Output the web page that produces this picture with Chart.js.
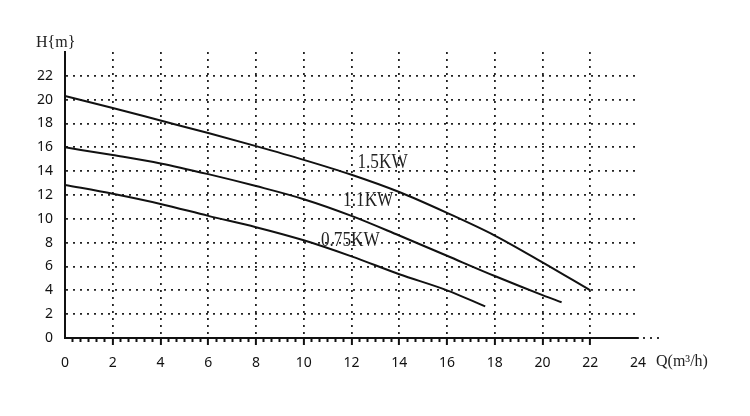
<!DOCTYPE html>
<html>
<head>
<meta charset="utf-8">
<script src="https://cdn.jsdelivr.net/npm/chart.js@4/dist/chart.umd.min.js"></script>
<style>
html, body { margin: 0; padding: 0; background: #fff; }
</style>
</head>
<body>
<canvas id="chartPump" width="750" height="416"></canvas>
<script>
// flow Q (m3/h) and head H (m)
const flow15 = [0, 2, 4, 6, 8, 10, 12, 14, 16, 18, 20, 22];
const head15 = [20.3, 19.3, 18.25, 17.2, 16.1, 14.95, 13.7, 12.25, 10.5, 8.6, 6.35, 4.0];
const flow11 = [0, 2, 4, 6, 8, 10, 12, 14, 16, 18, 20, 20.8];
const head11 = [16.0, 15.35, 14.65, 13.75, 12.75, 11.65, 10.25, 8.6, 6.9, 5.2, 3.6, 3.0];
const flow075 = [0, 2, 4, 6, 8, 10, 12, 14, 16, 17.6];
const head075 = [12.85, 12.1, 11.25, 10.25, 9.3, 8.2, 6.85, 5.35, 4.0, 2.65];

const curveNames = ['1.5KW', '1.1KW', '0.75KW'];
// where each name is written, in chart units
const nameQ = [13.3, 12.7, 11.95];
const nameH = [14.7, 11.5, 8.2];

function toPoints(xs, ys) {
    return xs.map(function(v, i) { return {x: v, y: ys[i]}; });
}

const none = 'rgba(0,0,0,0)';

// curve names, axis titles and the dotted run-out of the Q axis
const textPlugin = {
    id: 'pumpText',
    afterDatasetsDraw(chart) {
        const ctx = chart.ctx;
        const area = chart.chartArea;
        const x = chart.scales.x;
        const y = chart.scales.y;
        ctx.save();
        ctx.fillStyle = '#222';
        ctx.textBaseline = 'middle';
        ctx.textAlign = 'center';
        ctx.font = "21px 'Liberation Serif'";
        curveNames.forEach(function(n, i) {
            ctx.save();
            ctx.translate(x.getPixelForValue(nameQ[i]), y.getPixelForValue(nameH[i]));
            ctx.scale(0.82, 1);   // narrow lettering like the original
            ctx.fillText(n, 0, 0);
            ctx.restore();
        });
        ctx.textAlign = 'left';
        ctx.font = "16px 'Liberation Serif'";
        ctx.fillText('H{m}', area.left - 29, area.top - 9);
        ctx.fillText('Q(m\u00b3/h)', area.right + 18, area.bottom + 24);

        ctx.strokeStyle = '#333';
        ctx.lineWidth = 1.8;
        ctx.setLineDash([2, 5]);
        ctx.beginPath();
        ctx.moveTo(area.right + 5, area.bottom);
        ctx.lineTo(area.right + 24, area.bottom);
        ctx.stroke();
        ctx.restore();
    }
};

const lineStyle = {
    showLine: true,
    borderColor: '#111',
    borderWidth: 2,
    pointRadius: 0,
    cubicInterpolationMode: 'monotone',
    fill: false
};

const data = {
    datasets: [
        Object.assign({label: curveNames[0], data: toPoints(flow15, head15)}, lineStyle),
        Object.assign({label: curveNames[1], data: toPoints(flow11, head11)}, lineStyle),
        Object.assign({label: curveNames[2], data: toPoints(flow075, head075)}, lineStyle)
    ]
};

const tickFont = {family: "'Noto Sans'", size: 14};

const config = {
    type: 'scatter',
    data: data,
    plugins: [textPlugin],
    options: {
        responsive: false,
        animation: false,
        layout: { padding: {top: 52, right: 112, left: 0, bottom: 0} },
        plugins: {
            legend: { display: false },
            tooltip: { enabled: false }
        },
        scales: {
            x: {
                type: 'linear',
                position: 'bottom',
                weight: 1,
                min: 0,
                max: 24,
                ticks: { stepSize: 2, padding: 10, color: '#111', font: tickFont, autoSkip: false, maxRotation: 0 },
                grid: {
                    color: function(c) { return (c.tick.value === 0 || c.tick.value === 24) ? none : '#222'; },
                    lineWidth: 1.8,
                    tickLength: 7,
                    tickWidth: 2,
                    tickColor: function(c) { return (c.tick.value === 0 || c.tick.value === 24) ? none : '#111'; }
                },
                border: { color: '#111', width: 2, dash: [2, 5] },
                afterFit: function(s) { s.height = 78; }
            },
            // small ticks every 1/3 m3/h along the Q axis
            xMinor: {
                type: 'linear',
                axis: 'x',
                position: 'bottom',
                weight: 0,
                min: 0,
                max: 24,
                ticks: { stepSize: 1 / 3, autoSkip: false, maxRotation: 0, padding: 0, callback: function() { return ''; } },
                grid: {
                    drawOnChartArea: false,
                    tickLength: 4,
                    tickWidth: 2,
                    tickColor: function(c) {
                        const r = Math.round(c.tick.value * 3);
                        return (r === 0 || r > 66 || r % 6 === 0) ? none : '#111';
                    }
                },
                border: { display: false },
                afterFit: function(s) { s.height = 0; }
            },
            y: {
                min: 0,
                max: 24,
                ticks: {
                    stepSize: 2, padding: 12, color: '#111', font: tickFont,
                    callback: function(v) { return v === 24 ? null : v; }
                },
                grid: {
                    color: function(c) { return c.tick.value === 0 ? none : '#222'; },
                    lineWidth: 1.8,
                    drawTicks: false
                },
                border: { color: '#111', width: 2, dash: [2, 5] },
                afterFit: function(s) { s.width = 65; }
            }
        }
    }
};

var chart = new Chart(document.getElementById('chartPump'), config);
</script>
</body>
</html>
